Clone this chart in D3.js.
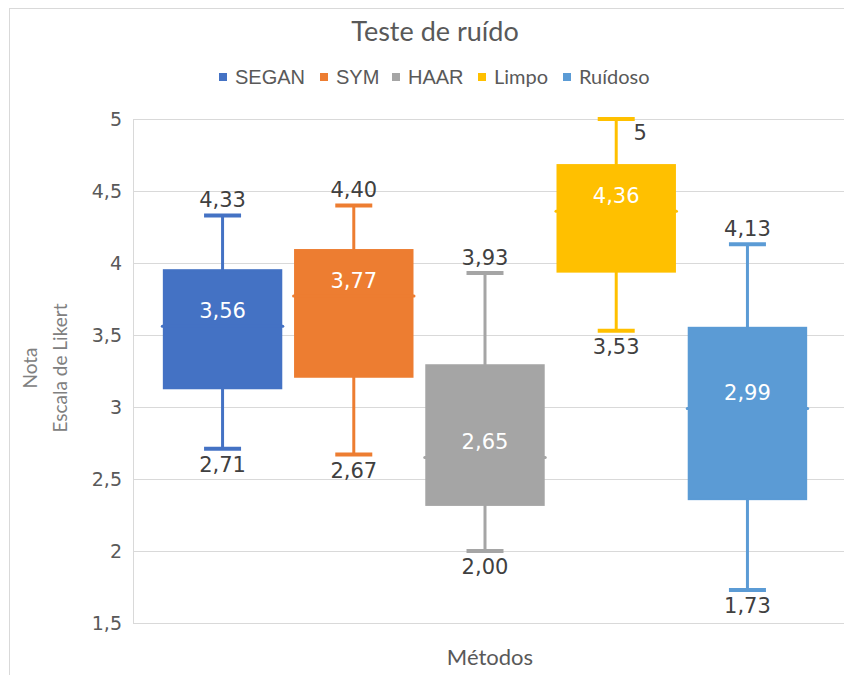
<!DOCTYPE html>
<html>
<head>
<meta charset="utf-8">
<script src="https://cdn.jsdelivr.net/npm/d3@7"></script>
<style>
  body { margin: 0; background: #fff; }
  svg { display: block; }
</style>
</head>
<body>
<script>
// data
var series = ["SEGAN", "SYM", "HAAR", "Limpo", "Ruídoso"];
var colors = ["#4472C4", "#ED7D31", "#A5A5A5", "#FFC000", "#5B9BD5"];
var minV   = [2.71, 2.67, 2.00, 3.53, 1.73];
var q1V    = [3.13, 3.21, 2.32, 3.94, 2.36];
var medV   = [3.56, 3.77, 2.65, 4.36, 2.99];
var q3V    = [3.95, 4.09, 3.29, 4.68, 3.55];
var maxV   = [4.33, 4.40, 3.93, 5, 4.13];
var yTicks = [1.5, 2, 2.5, 3, 3.5, 4, 4.5, 5];

var W = 844, H = 675;
var pLeft = 133, pRight = 837, pTop = 119, pBottom = 623;

var locale = d3.formatLocale({decimal: ",", thousands: ".", grouping: [3], currency: ["", ""]});
var fmt2 = locale.format(".2f"),
    fmtT = locale.format("~g");

var svg = d3.select("body").append("svg")
  .attr("width", W)
  .attr("height", H);

// chart frame
svg.append("rect")
  .attr("x", 9.5).attr("y", 8.5)
  .attr("width", W).attr("height", H)
  .attr("fill", "#fff")
  .attr("stroke", "#d9d9d9");

var y = d3.scaleLinear().domain([1.5, 5]).range([pBottom, pTop]);
var x = d3.scaleBand().domain(series).range([pLeft, pRight])
  .paddingInner(0.105).paddingOuter(0.235);

// y axis + gridlines
var yAxis = svg.append("g")
  .attr("transform", "translate(" + pLeft + ",0)")
  .call(d3.axisLeft(y).tickValues(yTicks).tickFormat(fmtT)
    .tickSize(-(W - pLeft)).tickPadding(11));
yAxis.select(".domain").remove();
yAxis.selectAll(".tick line").attr("stroke", "#d9d9d9");
yAxis.selectAll(".tick text")
  .attr("fill", "#595959")
  .style("font-family", "'DejaVu Sans', sans-serif")
  .style("font-size", "19px");
svg.append("line")
  .attr("x1", pLeft + 0.5).attr("x2", pLeft + 0.5)
  .attr("y1", pTop).attr("y2", pBottom)
  .attr("stroke", "#d9d9d9");

// boxes
var boxes = svg.selectAll("g.box")
  .data(series)
  .enter().append("g")
  .attr("class", "box");

boxes.each(function(s, i) {
  var g = d3.select(this),
      x0 = x(s), bw = x.bandwidth(), cx = x0 + bw / 2,
      c = colors[i], capW = 37;

  // whiskers
  g.append("line")
    .attr("x1", cx).attr("x2", cx)
    .attr("y1", y(maxV[i])).attr("y2", y(q3V[i]))
    .attr("stroke", c).attr("stroke-width", 3);
  g.append("line")
    .attr("x1", cx).attr("x2", cx)
    .attr("y1", y(q1V[i])).attr("y2", y(minV[i]))
    .attr("stroke", c).attr("stroke-width", 3);
  [maxV[i], minV[i]].forEach(function(v) {
    g.append("line")
      .attr("x1", cx - capW / 2).attr("x2", cx + capW / 2)
      .attr("y1", y(v)).attr("y2", y(v))
      .attr("stroke", c).attr("stroke-width", 4);
  });

  g.append("rect")
    .attr("x", x0).attr("y", y(q3V[i]))
    .attr("width", bw).attr("height", y(q1V[i]) - y(q3V[i]))
    .attr("fill", c)
    .attr("stroke", c).attr("stroke-width", 2);
  g.append("line")
    .attr("x1", x0 - 1.5).attr("x2", x0 + bw + 1.5)
    .attr("y1", y(medV[i])).attr("y2", y(medV[i]))
    .attr("stroke", c).attr("stroke-width", 3)
    .attr("stroke-linecap", "round");

  // labels
  var lab = function(txt, lx, ly, fill) {
    g.append("text")
      .attr("x", lx).attr("y", ly)
      .attr("text-anchor", "middle")
      .attr("fill", fill)
      .style("font-family", "'DejaVu Sans', sans-serif")
      .style("font-size", "21px")
      .text(txt);
  };
  lab(fmt2(medV[i]), cx, y(medV[i]) - 8, "#ffffff");
  if (maxV[i] >= y.domain()[1]) {
    lab(fmtT(maxV[i]), cx + 24, y(maxV[i]) + 21, "#404040");
  } else {
    lab(fmt2(maxV[i]), cx, y(maxV[i]) - 8, "#404040");
  }
  lab(fmt2(minV[i]), cx, y(minV[i]) + 23, "#404040");
});

// title
svg.append("text")
  .attr("x", 435).attr("y", 41)
  .attr("text-anchor", "middle")
  .attr("fill", "#595959")
  .style("font-family", "Lato, sans-serif")
  .style("font-size", "27px")
  .text("Teste de ruído");

// legend
var legX = [219, 320, 392, 478, 563];
var leg = svg.selectAll("g.leg")
  .data(series)
  .enter().append("g")
  .attr("class", "leg")
  .attr("transform", function(d, i) { return "translate(" + legX[i] + ",77)"; });
leg.append("rect")
  .attr("x", 0).attr("y", -4)
  .attr("width", 8).attr("height", 8)
  .attr("fill", function(d, i) { return colors[i]; });
leg.append("text")
  .attr("x", 16).attr("y", 7)
  .attr("fill", "#595959")
  .style("font-family", function(d) {
    return d === d.toUpperCase() ? "'Liberation Sans', Arial, sans-serif" : "Lato, sans-serif";
  })
  .style("font-size", "20px")
  .text(function(d) { return d; });

// axis titles
var yt = svg.append("text")
  .attr("transform", "translate(37," + ((pTop + pBottom) / 2 - 3) + ") rotate(-90)")
  .attr("text-anchor", "middle")
  .attr("fill", "#808080")
  .style("font-family", "Lato, sans-serif")
  .style("font-size", "19px");
yt.append("tspan").attr("x", 0).attr("dy", 0).text("Nota");
yt.append("tspan").attr("x", 0).attr("dy", 30).text("Escala de Likert");

svg.append("text")
  .attr("x", 490).attr("y", 665)
  .attr("text-anchor", "middle")
  .attr("fill", "#595959")
  .style("font-family", "Lato, sans-serif")
  .style("font-size", "22px")
  .text("Métodos");
</script>
</body>
</html>
